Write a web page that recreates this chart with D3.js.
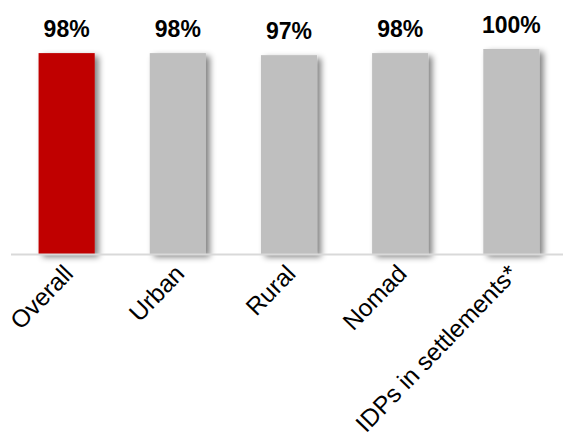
<!DOCTYPE html>
<html>
<head>
<meta charset="utf-8">
<script src="https://cdn.jsdelivr.net/npm/d3@7"></script>
<style>
  html, body { margin: 0; padding: 0; background: #fff; }
  svg { display: block; }
</style>
</head>
<body>
<svg id="chart" width="563" height="434"></svg>
<script>
// Share of respondents by population group
const categories = ["Overall", "Urban", "Rural", "Nomad", "IDPs in settlements*"];
const values = [98, 98, 97, 98, 100];
const barColors = ["#c00000", "#bfbfbf", "#bfbfbf", "#bfbfbf", "#bfbfbf"];

const baseY = 254;
const svg = d3.select("#chart");

const x = d3.scaleBand()
  .domain(categories)
  .range([11, 567])
  .paddingInner(0.495)
  .paddingOuter(0.248);

const y = d3.scaleLinear().domain([0, 100]).range([baseY, 49]);

// soft drop shadow to the lower right of each bar
const defs = svg.append("defs");
const f = defs.append("filter").attr("id", "shadow")
  .attr("x", "-20%").attr("y", "-10%").attr("width", "160%").attr("height", "130%");
f.append("feOffset").attr("in", "SourceAlpha").attr("dx", 4).attr("dy", 3).attr("result", "off");
f.append("feGaussianBlur").attr("in", "off").attr("stdDeviation", 3).attr("result", "blur");
f.append("feComponentTransfer").attr("in", "blur").attr("result", "sh")
  .append("feFuncA").attr("type", "linear").attr("slope", 0.5);
const m = f.append("feMerge");
m.append("feMergeNode").attr("in", "sh");
m.append("feMergeNode").attr("in", "SourceGraphic");

// bars
svg.append("g").selectAll("rect")
  .data(categories)
  .join("rect")
  .attr("x", d => x(d))
  .attr("y", (d, i) => y(values[i]))
  .attr("width", x.bandwidth())
  .attr("height", (d, i) => baseY - y(values[i]))
  .attr("fill", (d, i) => barColors[i])
  .attr("filter", "url(#shadow)");

// baseline axis
const axis = d3.axisBottom(x).tickSize(0).tickFormat("");
const gAxis = svg.append("g").attr("transform", `translate(0,${baseY + 0.5})`).call(axis);
gAxis.select(".domain").attr("stroke", "#d9d9d9").attr("stroke-width", 2)
  .attr("d", "M11,0H563");

// value labels
svg.append("g").selectAll("text")
  .data(categories)
  .join("text")
  .attr("x", d => x(d) + x.bandwidth() / 2)
  .attr("y", (d, i) => y(values[i]) - 16.5)
  .attr("text-anchor", "middle")
  .attr("font-family", "Liberation Sans, Arial, sans-serif")
  .attr("font-weight", "bold")
  .attr("font-size", 23)
  .attr("fill", "#000")
  .text((d, i) => values[i] + "%");

// rotated category labels
svg.append("g").selectAll("text")
  .data(categories)
  .join("text")
  .attr("transform", d => `translate(${x(d) + x.bandwidth() / 2 + 8},${baseY + 21}) rotate(-46)`)
  .attr("text-anchor", "end")
  .attr("font-family", "Liberation Sans, Arial, sans-serif")
  .attr("font-size", 24.5)
  .attr("fill", "#000")
  .text(d => d);
</script>
</body>
</html>
